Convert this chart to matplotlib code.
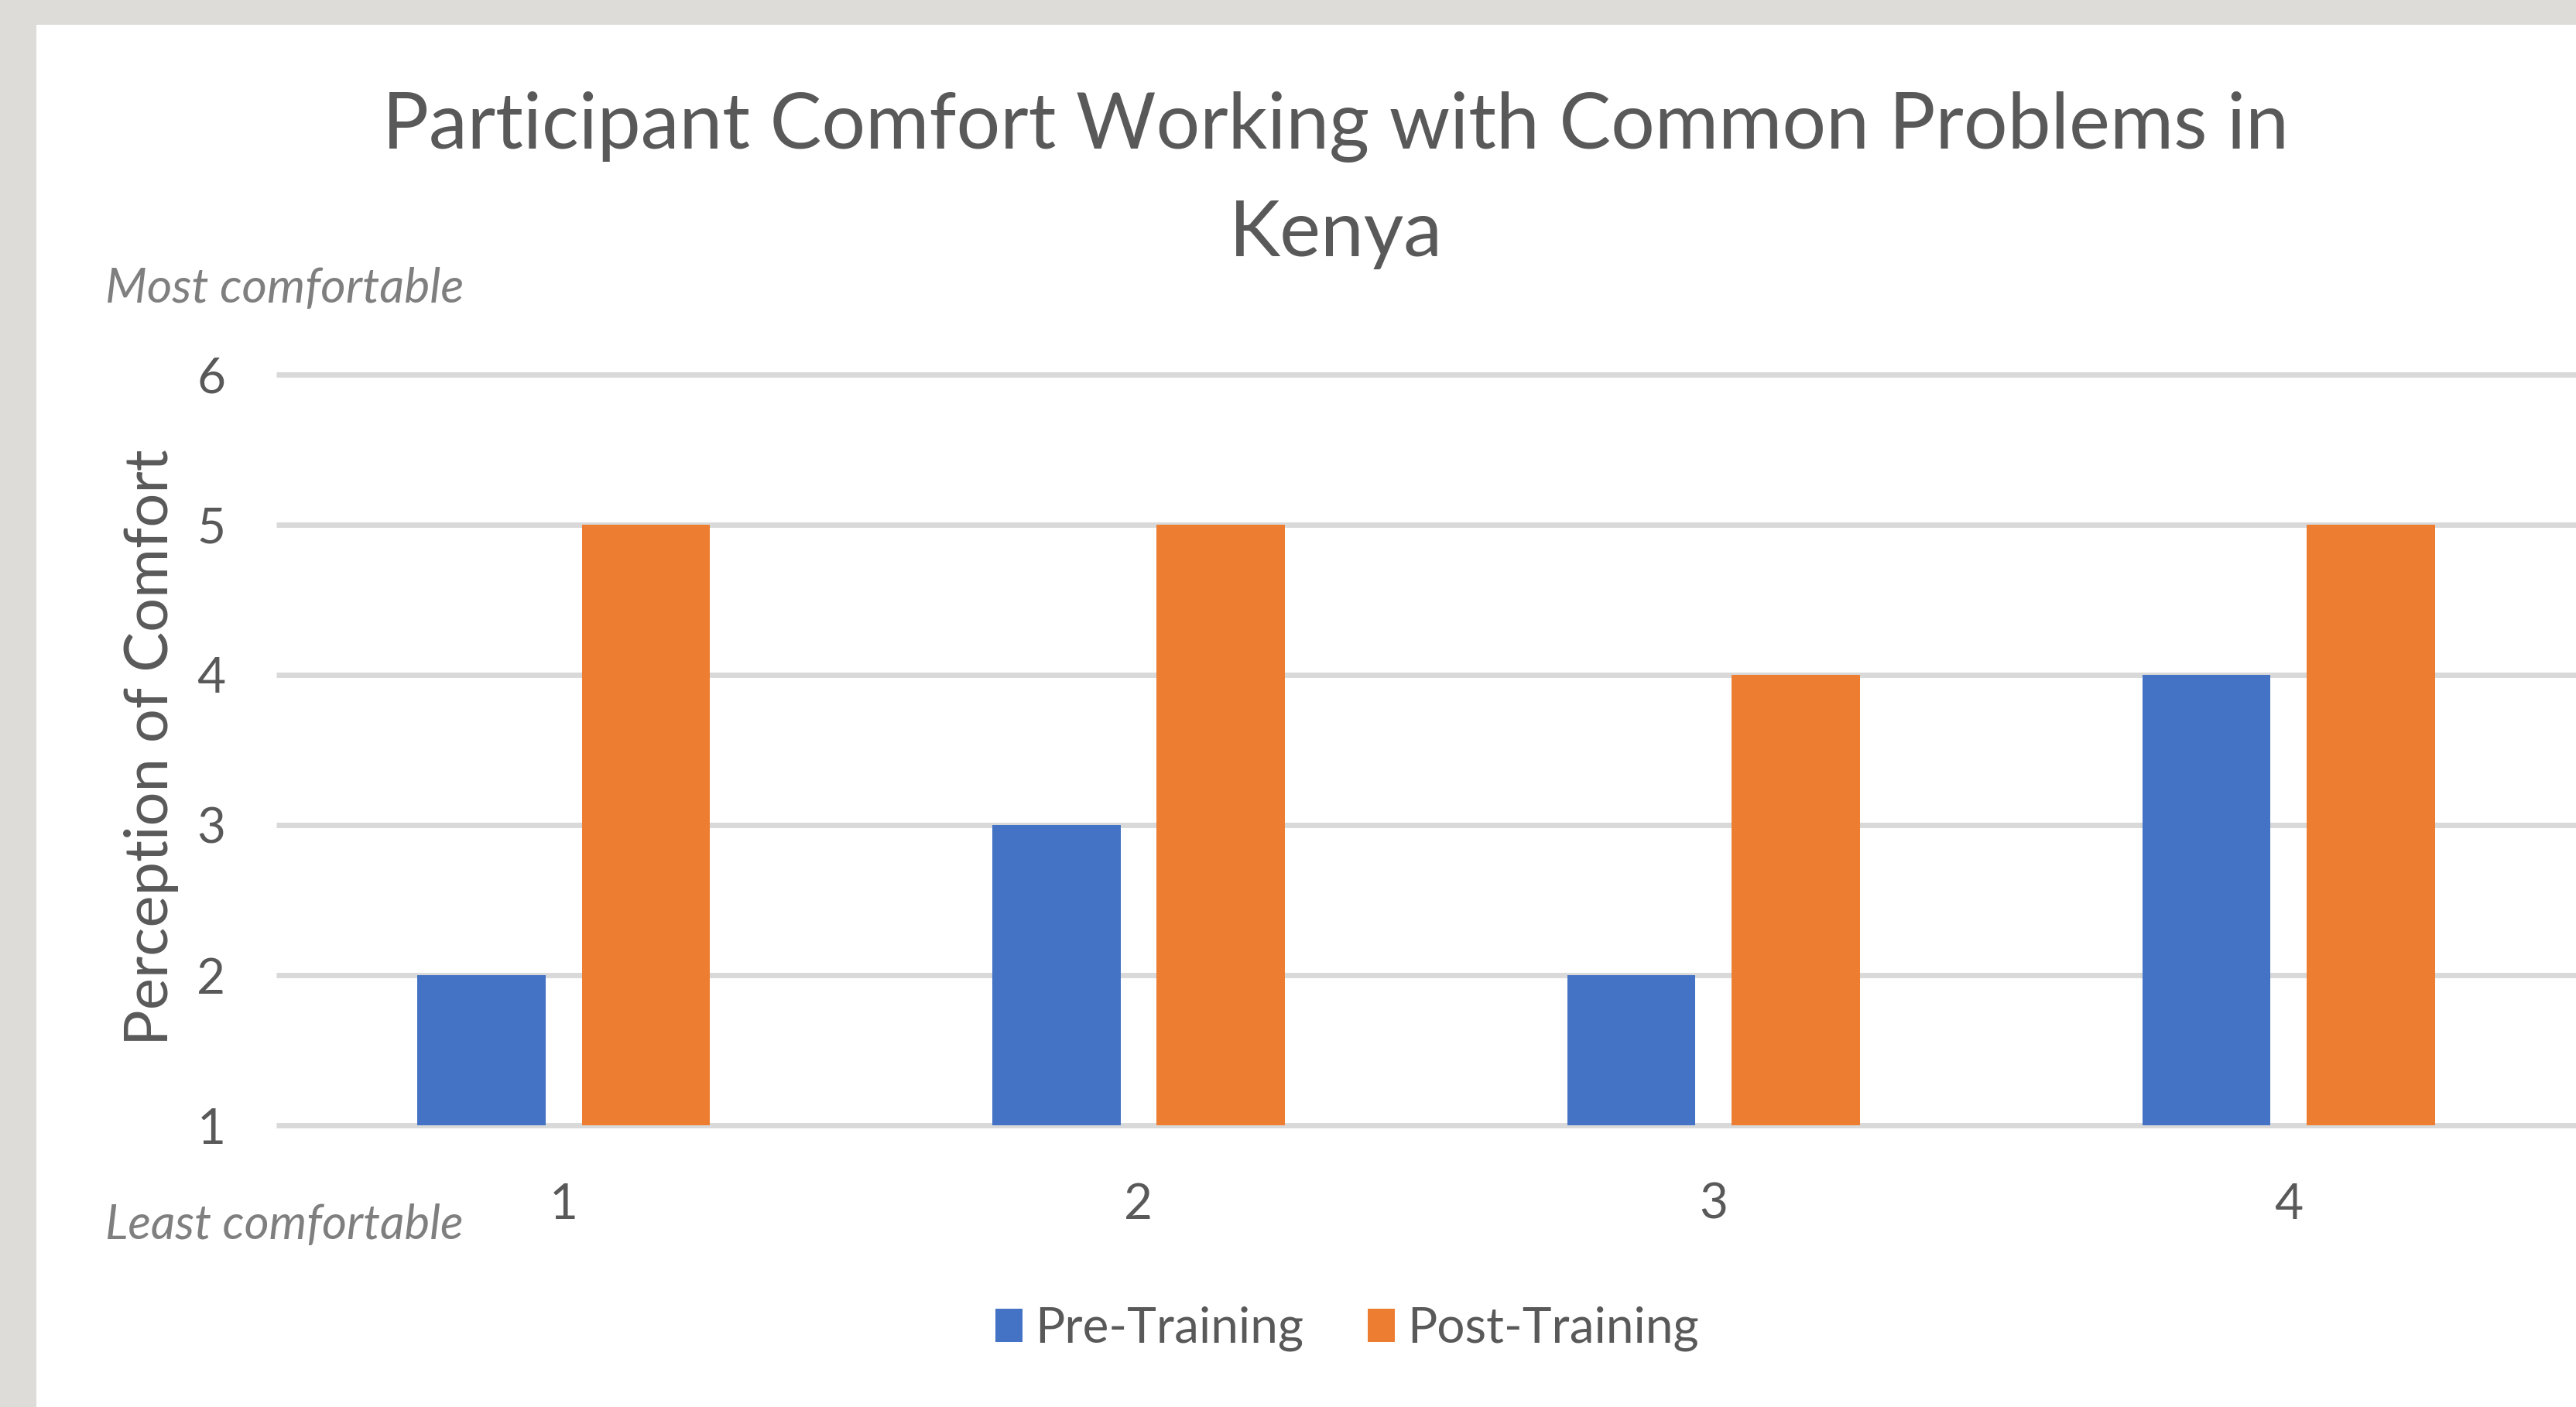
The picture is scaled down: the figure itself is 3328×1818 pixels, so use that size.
import numpy as np
import matplotlib.pyplot as plt
from matplotlib.patches import Patch, Rectangle

categories = [1, 2, 3, 4]
pre_training = [2, 3, 2, 4]
post_training = [5, 5, 4, 5]
series_names = ['Pre-Training', 'Post-Training']
yticks = [1, 2, 3, 4, 5, 6]

blue = '#4472C4'
orange = '#ED7D31'
text_grey = '#595959'
grid_grey = '#D9D9D9'

plt.rcParams['font.family'] = ['Lato', 'DejaVu Sans']

fig = plt.figure(figsize=(33.28, 18.18), dpi=100, facecolor='#DEDCD8')
fig.patches.append(Rectangle((0.0141, 0), 1, 0.9824, transform=fig.transFigure,
                             facecolor='white', edgecolor='none', zorder=-5))

ax = fig.add_axes([0.1072, 0.2002, 0.8928, 0.5336])
ax.set_facecolor('none')

x = np.array(categories, dtype=float)
w = 0.223
ax.bar(x - 0.143, pre_training, width=w, color=blue, zorder=3)
ax.bar(x + 0.143, post_training, width=w, color=orange, zorder=3)

ax.set_xlim(0.5, 4.5)
ax.set_ylim(1, 6)
ax.set_yticks(yticks)
ax.set_xticks(categories)
ax.yaxis.grid(True, color=grid_grey, linewidth=5, zorder=0)
ax.set_axisbelow(True)
for s in ax.spines.values():
    s.set_visible(False)
ax.tick_params(axis='both', length=0, labelsize=46, labelcolor=text_grey)
ax.tick_params(axis='y', pad=47)
ax.tick_params(axis='x', pad=53)
for gl in ax.get_ygridlines():
    gl.set_clip_on(False)
    gl.set_solid_capstyle('butt')

fig.text(0.5186, 0.935, 'Participant Comfort Working with Common Problems in\nKenya',
         ha='center', va='top', fontsize=72, color=text_grey, linespacing=1.63)

fig.text(0.0587, 0.4686, 'Perception of Comfort', rotation=90, ha='center', va='center',
         fontsize=56, color=text_grey)
fig.text(0.0408, 0.7943, 'Most comfortable', ha='left', va='center',
         fontsize=45, style='italic', color='#7F7F7F')
fig.text(0.0408, 0.1292, 'Least comfortable', ha='left', va='center',
         fontsize=44.5, style='italic', color='#7F7F7F')

handles = [Patch(facecolor=blue), Patch(facecolor=orange)]
fig.legend(handles, series_names, loc='center', bbox_to_anchor=(0.523, 0.0556),
           ncol=2, frameon=False, fontsize=46, labelcolor=text_grey,
           handlelength=0.55, handleheight=0.65, handletextpad=0.25, columnspacing=1.3)

fig.savefig('out.png', dpi=100, facecolor=fig.get_facecolor())
